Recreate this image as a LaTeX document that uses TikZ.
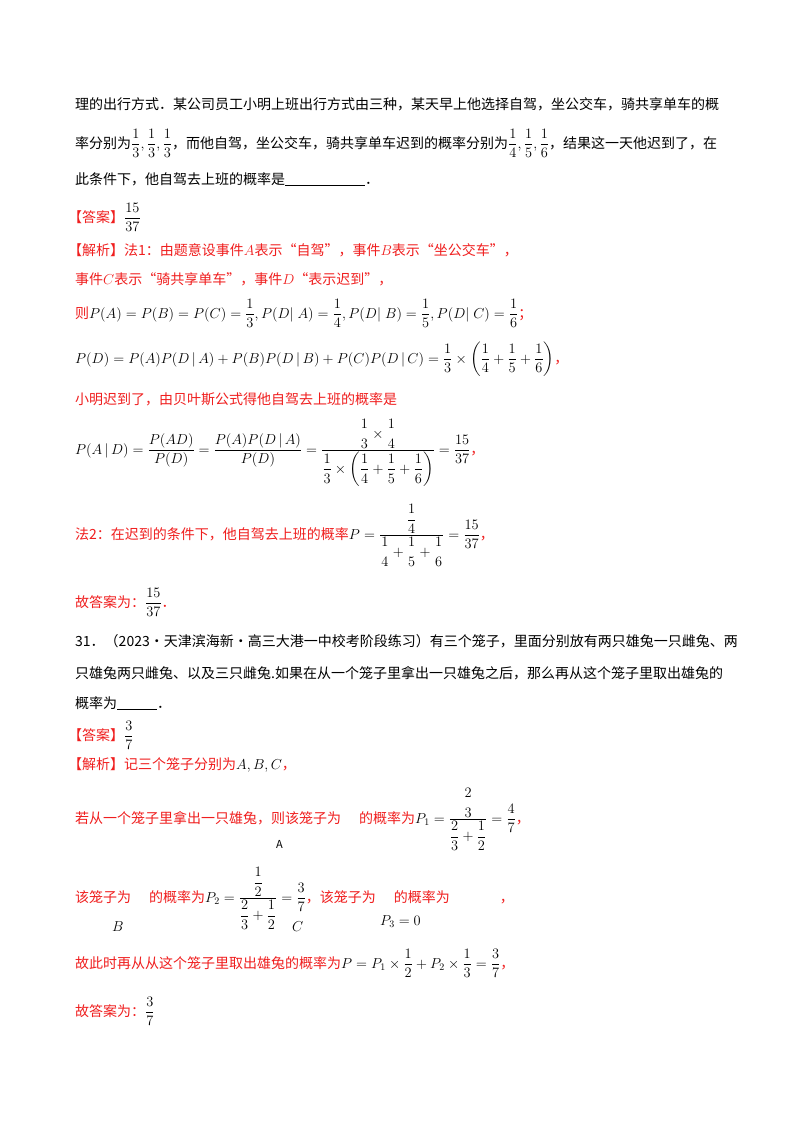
\documentclass[tikz,border=0pt]{standalone}
\usepackage{amsmath}
\usepackage{fontspec}
\setmainfont{Noto Sans CJK SC}
\everymath{\displaystyle}
\newcommand{\nf}[2]{\genfrac{}{}{0pt}{0}{#1}{#2}}
\newcommand{\df}[2]{\genfrac{}{}{}{0}{#1}{#2}}
\definecolor{ans}{RGB}{240,30,30}
\tikzset{
  txt/.style={anchor=base west,inner sep=0pt,font=\fontsize{14}{17}\selectfont},
  rtxt/.style={txt,text=ans}
}
\begin{document}
\begin{tikzpicture}[x=1pt,y=-1pt]
\useasboundingbox[fill=white] (0,0) rectangle (800,1132);
\node[txt] (l1) at (75,109) {理的出行方式．某公司员工小明上班出行方式由三种，某天早上他选择自驾，坐公交车，骑共享单车的概};
\node[txt] (l2) at (75,148) {率分别为$\df13,\df13,\df13$，而他自驾，坐公交车，骑共享单车迟到的概率分别为$\df14,\df15,\df16$，结果这一天他迟到了，在};
\node[txt] (l3) at (75,184) {此条件下，他自驾去上班的概率是\rule[-2pt]{80pt}{1pt}．};
\node[rtxt] (a1) at (68,222) {【答案】\textcolor{black}{$\df{15}{37}$}};
\node[rtxt] (j1) at (68,255) {【解析】法1：由题意设事件$A$表示“自驾”，事件$B$表示“坐公交车”，};
\node[rtxt] (j2) at (75,284) {事件$C$表示“骑共享单车”，事件$D$“表示迟到”，};
\node[rtxt] (j3) at (75,318) {则\textcolor{black}{$P(A)=P(B)=P(C)=\df13,P(D|\;A)=\df14,P(D|\;B)=\df15,P(D|\;C)=\df16$}；};
\node[txt] (j4) at (75,363) {$P(D)=P(A)P(D\,|\,A)+P(B)P(D\,|\,B)+P(C)P(D\,|\,C)=\df13\times\left(\df14+\df15+\df16\right)$\textcolor{ans}{，}};
\node[rtxt] (j5) at (75,404) {小明迟到了，由贝叶斯公式得他自驾去上班的概率是};
\node[txt] (j6) at (75,454) {$P(A\,|\,D)=\df{P(AD)}{P(D)}=\df{P(A)P(D\,|\,A)}{P(D)}=\df{\nf13\times\nf14}{\df13\times\left(\df14+\df15+\df16\right)}=\df{15}{37}$\textcolor{ans}{，}};
\node[rtxt] (j7) at (75,539) {法2：在迟到的条件下，他自驾去上班的概率\textcolor{black}{$P=\df{\df14}{\nf14+\nf15+\nf16}=\df{15}{37}$}，};
\node[rtxt] (j8) at (75,607) {故答案为：\textcolor{black}{$\df{15}{37}$}．};
\node[txt] (q1) at (75,646) {31．（2023·天津滨海新·高三大港一中校考阶段练习）有三个笼子，里面分别放有两只雄兔一只雌兔、两};
\node[txt] (q2) at (75,678) {只雄兔两只雌兔、以及三只雌兔.如果在从一个笼子里拿出一只雄兔之后，那么再从这个笼子里取出雄兔的};
\node[txt] (q3) at (75,708) {概率为\rule[-2pt]{40pt}{1pt}．};
\node[rtxt] (a2) at (68,740) {【答案】\textcolor{black}{$\df37$}};
\node[rtxt] (k1) at (68,769) {【解析】记三个笼子分别为\textcolor{black}{$A,B,C$}，};
\node[rtxt] (k2) at (75,823) {若从一个笼子里拿出一只雄兔，则该笼子为\hspace{18pt}的概率为\textcolor{black}{$P_1=\df{\nf{2}{3}}{\df23+\df12}=\df47$}，};
\node[txt,font=\fontsize{11}{13}\selectfont] (kA) at (276,848) {A};
\node[rtxt] (k3) at (75,902) {该笼子为\hspace{18pt}的概率为\textcolor{black}{$P_2=\df{\df12}{\df23+\df12}=\df37$}，该笼子为\hspace{18pt}的概率为\hspace{50pt}，};
\node[txt] (kB) at (112,931) {$B$};
\node[txt] (kC) at (292,931) {$C$};
\node[txt] (kP) at (380,925) {$P_3=0$};
\node[rtxt] (k4) at (75,968) {故此时再从从这个笼子里取出雄兔的概率为\textcolor{black}{$P=P_1\times\df12+P_2\times\df13=\df37$}，};
\node[rtxt] (k5) at (75,1016) {故答案为：\textcolor{black}{$\df37$}};
\end{tikzpicture}
\end{document}
